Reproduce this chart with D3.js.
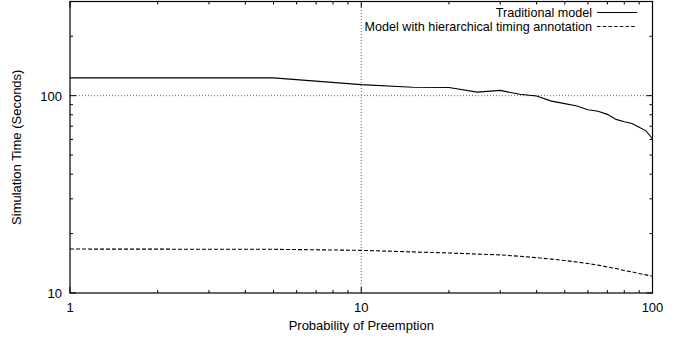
<!DOCTYPE html>
<html>
<head>
<meta charset="utf-8">
<script src="https://cdn.jsdelivr.net/npm/d3@7"></script>
<style>
  body { margin: 0; background: #fff; }
  svg { font-family: "Liberation Sans", Arial, sans-serif; }
</style>
</head>
<body>
<script>
// data (log-log)
const probs = [1, 5, 10, 15, 20, 25, 30, 35, 40, 45, 50, 55, 60, 65, 70, 75, 80, 85, 90, 95, 100];
const traditional = [123, 123, 113.7, 110.3, 110, 104.2, 106.3, 101.6, 99.6, 93.8, 91.1, 88.6, 84.9, 83.3, 80.4, 75.8, 73.8, 72.2, 69.2, 66.3, 60.5];
const hierarchical = [16.7, 16.65, 16.45, 16.15, 15.95, 15.75, 15.6, 15.35, 15.1, 14.85, 14.6, 14.35, 14.1, 13.85, 13.55, 13.3, 13.0, 12.8, 12.55, 12.35, 12.15];
const seriesNames = ["Traditional model", "Model with hierarchical timing annotation"];
const xTicks = [1, 10, 100];
const yTicks = [10, 100];

const width = 686, height = 339;
const margin = {left: 70, right: 33.5, top: 1.5, bottom: 46};
const fs = "13px";

const svg = d3.select("body").append("svg")
    .attr("width", width)
    .attr("height", height);

const x = d3.scaleLog().domain([1, 100]).range([margin.left, width - margin.right]);
const y = d3.scaleLog().domain([10, 300]).range([height - margin.bottom, margin.top]);

const x0 = x.range()[0], x1 = x.range()[1], y0 = y.range()[0], y1 = y.range()[1];

// minor ticks 2..9 per decade
function minors(lo, hi) {
  const out = [];
  for (let d = 1; d < 1000; d *= 10)
    for (let k = 2; k <= 9; k++) {
      const v = k * d;
      if (v > lo && v < hi) out.push(v);
    }
  return out;
}

// grid at inner major ticks
const grid = svg.append("g")
    .attr("stroke", "#666")
    .attr("stroke-width", 1)
    .attr("stroke-dasharray", "1,2");
grid.selectAll(".gx").data(xTicks.filter(v => v > 1 && v < 100)).enter().append("line")
    .attr("x1", d => x(d)).attr("x2", d => x(d))
    .attr("y1", y0).attr("y2", y1);
grid.selectAll(".gy").data(yTicks.filter(v => v > 10 && v < 300)).enter().append("line")
    .attr("y1", d => y(d)).attr("y2", d => y(d))
    .attr("x1", x0).attr("x2", x1);

// axes (gnuplot style with mirrored ticks)
const majorLen = 6, minorLen = 3;
const ticks = svg.append("g").attr("stroke", "#000").attr("stroke-width", 1);

xTicks.forEach(v => {
  ticks.append("line").attr("x1", x(v)).attr("x2", x(v)).attr("y1", y0).attr("y2", y0 - majorLen);
  ticks.append("line").attr("x1", x(v)).attr("x2", x(v)).attr("y1", y1).attr("y2", y1 + majorLen);
});
minors(1, 100).forEach(v => {
  ticks.append("line").attr("x1", x(v)).attr("x2", x(v)).attr("y1", y0).attr("y2", y0 - minorLen);
  ticks.append("line").attr("x1", x(v)).attr("x2", x(v)).attr("y1", y1).attr("y2", y1 + minorLen);
});
yTicks.forEach(v => {
  ticks.append("line").attr("y1", y(v)).attr("y2", y(v)).attr("x1", x0).attr("x2", x0 + majorLen);
  ticks.append("line").attr("y1", y(v)).attr("y2", y(v)).attr("x1", x1).attr("x2", x1 - majorLen);
});
minors(10, 300).forEach(v => {
  ticks.append("line").attr("y1", y(v)).attr("y2", y(v)).attr("x1", x0).attr("x2", x0 + minorLen);
  ticks.append("line").attr("y1", y(v)).attr("y2", y(v)).attr("x1", x1).attr("x2", x1 - minorLen);
});

svg.selectAll(".xl").data(xTicks).enter().append("text")
    .attr("x", d => x(d)).attr("y", y0 + 19)
    .attr("text-anchor", "middle")
    .style("font-size", fs)
    .text(d => d);
svg.selectAll(".yl").data(yTicks).enter().append("text")
    .attr("x", x0 - 8).attr("y", d => y(d) + 5)
    .attr("text-anchor", "end")
    .style("font-size", fs)
    .text(d => d);

svg.append("text")
    .attr("x", (x0 + x1) / 2).attr("y", 330)
    .attr("text-anchor", "middle")
    .style("font-size", fs)
    .text("Probability of Preemption");
svg.append("text")
    .attr("transform", "translate(21," + ((y0 + y1) / 2) + ") rotate(-90)")
    .attr("text-anchor", "middle")
    .style("font-size", fs)
    .text("Simulation Time (Seconds)");

// series
const line = d3.line().x(d => x(d[0])).y(d => y(d[1]));
const dashes = ["none", "4,2"];
[traditional, hierarchical].forEach((vals, i) => {
  svg.append("path")
      .datum(probs.map((p, j) => [p, vals[j]]))
      .attr("d", line)
      .attr("fill", "none")
      .attr("stroke", "#000")
      .attr("stroke-width", 1.1)
      .attr("stroke-dasharray", dashes[i]);
});

// border
svg.append("rect")
    .attr("x", x0).attr("y", y1)
    .attr("width", x1 - x0).attr("height", y0 - y1)
    .attr("fill", "none").attr("stroke", "#000").attr("stroke-width", 1.2);

// legend
const legend = svg.append("g").attr("transform", "translate(0, 12.5)");
seriesNames.forEach((name, i) => {
  legend.append("text")
      .attr("x", 592).attr("y", i * 14 + 4.5)
      .attr("text-anchor", "end")
      .style("font-size", "12.6px")
      .text(name);
  legend.append("line")
      .attr("x1", 597).attr("x2", 637)
      .attr("y1", i * 14).attr("y2", i * 14)
      .attr("stroke", "#000").attr("stroke-width", 1.1)
      .attr("stroke-dasharray", i ? "3.5,2.2" : "none");
});
</script>
</body>
</html>
